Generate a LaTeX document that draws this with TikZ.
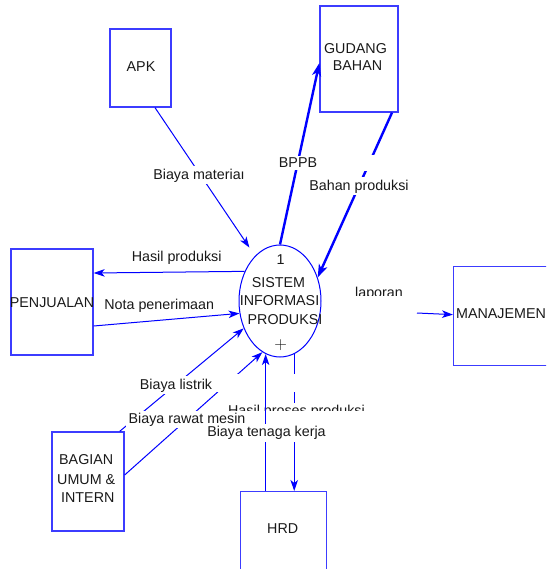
\documentclass[tikz,border=0pt]{standalone}
\usepackage{fontspec}
\setmainfont{Liberation Sans}
\newfontfamily\lmfont{Latin Modern Roman}
\usetikzlibrary{arrows.meta,shapes.geometric,calc}
\definecolor{boxblue}{RGB}{60,60,255}
\definecolor{lineblue}{RGB}{0,0,255}
\definecolor{txt}{RGB}{25,25,25}
\begin{document}
\begin{tikzpicture}[x=1pt,y=-1pt,
  every node/.style={font=\fontsize{14.3}{17}\selectfont, text=txt},
  boxst/.style={draw=boxblue, line width=1.3pt, rectangle, inner sep=0pt},
  txtn/.style={anchor=base, inner sep=0pt},
  lbl/.style={anchor=base, fill=white, inner sep=2.2pt},
  flow/.style={color=lineblue, draw=lineblue, line width=1pt, -{Stealth[length=11pt,width=7.5pt,inset=3pt]}},
  bigflow/.style={color=lineblue, draw=lineblue, line width=2.4pt, -{Stealth[length=13pt,width=9pt,inset=3.5pt]}},
]
\useasboundingbox (0,0) rectangle (546,569);
\clip (0,0) rectangle (546,569);

% entities and process
\node[boxst, minimum width=61pt, minimum height=78pt] (APK) at (140.5,68) {};
\node[boxst, minimum width=78pt, minimum height=106pt] (G) at (359,59) {};
\node[draw=lineblue, line width=1pt, ellipse, minimum width=82pt, minimum height=112pt, inner sep=0pt] (P) at (280,301) {};
\node[boxst, minimum width=82pt, minimum height=106pt] (PJ) at (52,302) {};
\node[boxst, minimum width=110pt, minimum height=99pt, anchor=north west] (M) at (453,266) {};
\node[boxst, minimum width=72pt, minimum height=99pt] (B) at (88,481.5) {};
\node[boxst, minimum width=86pt, minimum height=110pt, anchor=north west] (H) at (240,491) {};

% texts in shapes
\node[txtn] (tAPK) at (141,72) {APK};
\node[txtn] (tG1) at (355.5,53.3) {GUDANG};
\node[txtn] (tG2) at (357.5,70.7) {BAHAN};
\node[txtn] (tP0) at (280.7,264) {1};
\node[txtn] (tP1) at (278.4,287.3) {SISTEM};
\node[txtn] (tP2) at (279.5,305.7) {INFORMASI};
\node[txtn] (tP3) at (285,324.3) {PRODUKSI};
\node[inner sep=0pt, font=\lmfont\fontsize{17.5}{18}\selectfont] (tP4) at (280.7,345.5) {+};
\node[txtn] (tPJ) at (52,307) {PENJUALAN};
\node[txtn] (tM) at (501,318.3) {MANAJEMEN};
\node[txtn] (tB1) at (86.2,464) {BAGIAN};
\node[txtn] (tB2) at (86.2,484) {UMUM \&};
\node[txtn] (tB3) at (87.8,502.3) {INTERN};
\node[txtn] (tH) at (282.7,533.3) {HRD};

% flows
\draw[flow, shorten >=10pt] ([xshift=14.5pt]APK.south) -- (P.119.5);
\draw[bigflow] (P.north) -- ([yshift=-4pt]G.west);
\draw[bigflow] ([xshift=33pt]G.south) -- (P.32);
\draw[flow] (P.140) -- ([yshift=29pt]PJ.east);
\draw[flow] ([yshift=-24pt]PJ.east) -- (P.197);
\draw[flow] ([xshift=-5pt]B.north east) -- (P.217);
\draw[flow] ([yshift=6.5pt]B.east) -- (P.251);
\draw[flow] (P.285) -- (P.285 |- H.north);
\coordinate (L) at (417,313);
\draw[flow] (L) -- ([yshift=1.5pt]M.west);

% masks
\fill[white] (216,374) rectangle (365,392);
\fill[white] (226,403) rectangle (365,426);
\fill[white] (362,155) rectangle (380,171);

% labels
\node[lbl] (lMat) at (199,179) {Biaya materiaı};
\node[lbl] (lBPPB) at (298,167.7) {BPPB};
\node[lbl] (lBahan) at (359,190) {Bahan produksi};
\node[lbl] (lHasil) at (176.7,261) {Hasil produksi};
\node[lbl] (lNota) at (159.2,309) {Nota penerimaan};
\node[lbl] (lList) at (176,389) {Biaya listrik};
\node[lbl] (lRawat) at (187,423.3) {Biaya rawat mesin};
\begin{scope}
  \clip (340,280) rectangle (420,295.5);
  \node[txtn] (lLap) at (379,297.4) {laporan};
\end{scope}
\begin{scope}
  \clip (220,395) rectangle (370,410.5);
  \node[txtn] (lProses) at (296.5,415.2) {Hasil proses produksi};
\end{scope}

\draw[flow] ([xshift=-18pt]H.north) -- ([xshift=-18pt]H.north |- P.255);
\node[lbl] (lTen) at (266.5,436.7) {Biaya tenaga kerja};
\end{tikzpicture}
\end{document}
